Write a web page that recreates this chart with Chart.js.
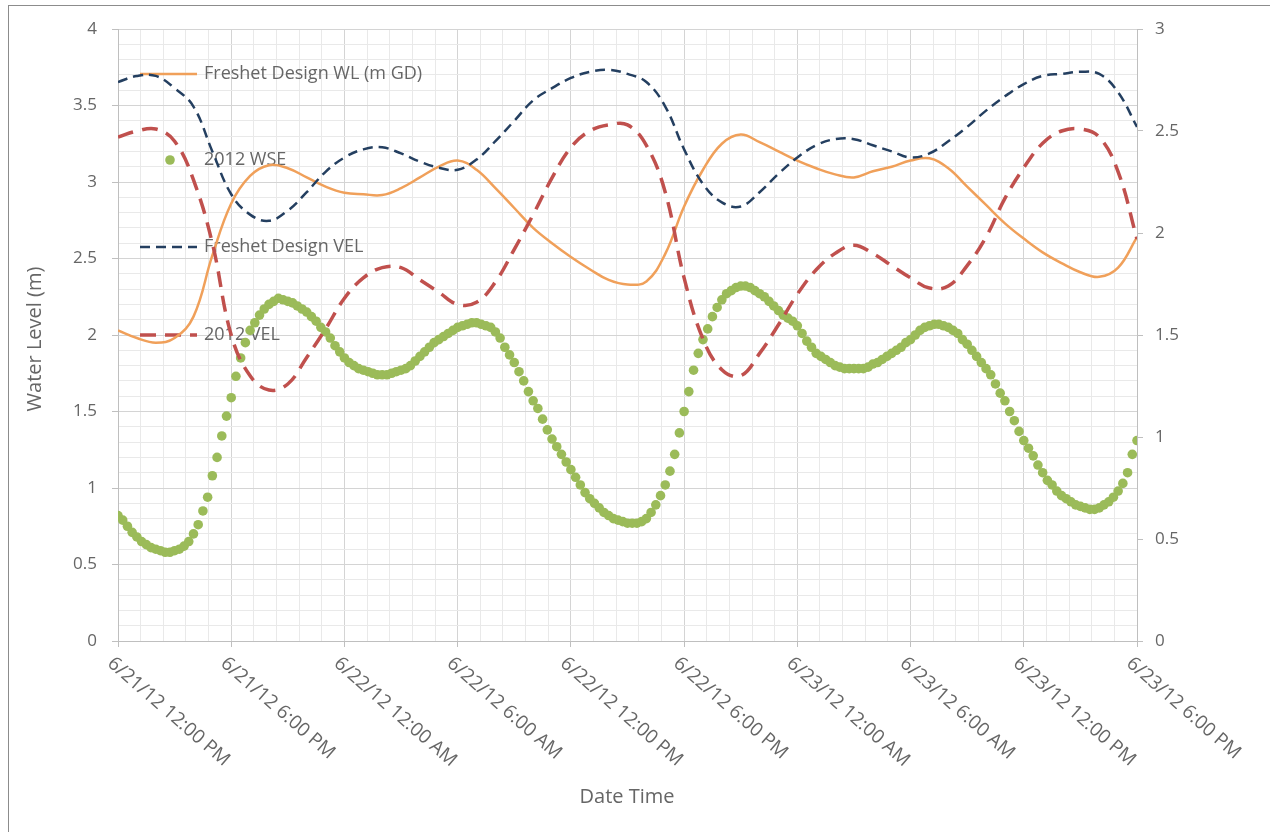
<!DOCTYPE html>
<html>
<head>
<meta charset="utf-8">
<script src="https://cdn.jsdelivr.net/npm/chart.js@4.4.1/dist/chart.umd.min.js"></script>
<style>
  html, body { margin: 0; padding: 0; background: #fff; }
  canvas { display: block; }
</style>
</head>
<body>
<canvas id="chart" width="1270" height="832"></canvas>
<script>
// time axis, hours after 6/21/12 12:00 PM
const xTickHours = [0, 6, 12, 18, 24, 30, 36, 42, 48, 54];
const xTickLabels = ["6/21/12 12:00 PM", "6/21/12 6:00 PM", "6/22/12 12:00 AM", "6/22/12 6:00 AM", "6/22/12 12:00 PM",
                     "6/22/12 6:00 PM", "6/23/12 12:00 AM", "6/23/12 6:00 AM", "6/23/12 12:00 PM", "6/23/12 6:00 PM"];
const seriesNames = ["Freshet Design WL (m GD)", "2012 WSE", "Freshet Design VEL", "2012 VEL"];

// hourly design series
const designWL = [2.03, 1.98, 1.95, 1.98, 2.12, 2.52, 2.86, 3.04, 3.11, 3.09, 3.03, 2.97, 2.93, 2.92, 2.915, 2.96, 3.03, 3.10,
                  3.14, 3.08, 2.96, 2.83, 2.70, 2.60, 2.51, 2.43, 2.36, 2.33, 2.35, 2.53, 2.84, 3.08, 3.25, 3.31, 3.26, 3.20,
                  3.14, 3.09, 3.05, 3.03, 3.07, 3.10, 3.14, 3.155, 3.09, 2.97, 2.85, 2.73, 2.63, 2.54, 2.47, 2.41, 2.38, 2.44, 2.64];
const designVEL = [2.74, 2.77, 2.77, 2.71, 2.62, 2.40, 2.19, 2.09, 2.06, 2.11, 2.20, 2.30, 2.37, 2.41, 2.42, 2.39, 2.35, 2.32,
                   2.31, 2.36, 2.45, 2.55, 2.65, 2.71, 2.76, 2.79, 2.80, 2.78, 2.74, 2.62, 2.41, 2.24, 2.15, 2.13, 2.20, 2.29,
                   2.37, 2.43, 2.46, 2.46, 2.43, 2.40, 2.37, 2.39, 2.45, 2.52, 2.60, 2.67, 2.73, 2.77, 2.78, 2.79, 2.78, 2.69, 2.52];
const vel2012 = [2.47, 2.50, 2.51, 2.45, 2.26, 1.95, 1.50, 1.30, 1.23, 1.26, 1.39, 1.53, 1.68, 1.78, 1.83, 1.83, 1.77, 1.71,
                 1.65, 1.66, 1.76, 1.92, 2.09, 2.27, 2.42, 2.50, 2.53, 2.53, 2.43, 2.20, 1.78, 1.48, 1.33, 1.30, 1.41, 1.55,
                 1.70, 1.82, 1.90, 1.94, 1.90, 1.84, 1.78, 1.73, 1.74, 1.84, 1.98, 2.17, 2.32, 2.44, 2.50, 2.51, 2.47, 2.30, 1.97];

// 15-minute observed water surface elevation
const wse2012 = [
  0.82, 0.79, 0.75, 0.71, 0.68, 0.65, 0.63, 0.61, 0.60, 0.59, 0.58, 0.58,
  0.59, 0.60, 0.62, 0.65, 0.70, 0.76, 0.85, 0.94, 1.08, 1.20, 1.34, 1.47,
  1.59, 1.73, 1.85, 1.95, 2.03, 2.08, 2.13, 2.17, 2.20, 2.22, 2.24, 2.23,
  2.22, 2.21, 2.19, 2.17, 2.15, 2.12, 2.09, 2.05, 2.02, 1.98, 1.93, 1.89,
  1.85, 1.82, 1.80, 1.78, 1.77, 1.76, 1.75, 1.74, 1.74, 1.74, 1.75, 1.76,
  1.77, 1.78, 1.80, 1.83, 1.86, 1.89, 1.92, 1.95, 1.97, 1.99, 2.01, 2.03,
  2.05, 2.06, 2.07, 2.08, 2.08, 2.07, 2.06, 2.05, 2.02, 1.98, 1.92, 1.87,
  1.82, 1.76, 1.70, 1.63, 1.57, 1.52, 1.45, 1.38, 1.32, 1.27, 1.22, 1.17,
  1.12, 1.07, 1.02, 0.97, 0.93, 0.90, 0.87, 0.84, 0.82, 0.80, 0.79, 0.78,
  0.77, 0.77, 0.77, 0.78, 0.80, 0.84, 0.89, 0.95, 1.02, 1.11, 1.22, 1.36,
  1.50, 1.63, 1.77, 1.88, 1.97, 2.04, 2.12, 2.18, 2.23, 2.27, 2.29, 2.31,
  2.32, 2.32, 2.31, 2.29, 2.27, 2.25, 2.22, 2.19, 2.16, 2.13, 2.11, 2.09,
  2.06, 2.01, 1.96, 1.92, 1.88, 1.86, 1.84, 1.82, 1.80, 1.79, 1.78, 1.78,
  1.78, 1.78, 1.78, 1.79, 1.81, 1.82, 1.84, 1.86, 1.88, 1.90, 1.92, 1.95,
  1.97, 2.00, 2.03, 2.05, 2.06, 2.07, 2.07, 2.06, 2.05, 2.03, 2.01, 1.97,
  1.94, 1.90, 1.86, 1.82, 1.78, 1.74, 1.68, 1.62, 1.57, 1.50, 1.44, 1.37,
  1.31, 1.26, 1.21, 1.15, 1.10, 1.05, 1.02, 0.98, 0.95, 0.93, 0.91, 0.89,
  0.88, 0.87, 0.86, 0.86, 0.87, 0.89, 0.91, 0.94, 0.98, 1.03, 1.10, 1.22,
  1.31
];

const FONT = "'Open Sans', sans-serif";
const TEXT = "#666666";
const ORANGE = "#F0A05A", GREEN = "#9BBB59", NAVY = "#243F60", RED = "#C0504D";

const hourly = arr => arr.map((v, i) => ({ x: i, y: v }));
const quarterly = arr => arr.map((v, i) => ({ x: i / 4, y: v }));
const isMult = (v, step) => Math.abs(v / step - Math.round(v / step)) < 1e-6;

const decor = {
  id: "decor",
  beforeDatasetsDraw(chart) {
    const ctx = chart.ctx;
    ctx.save();
    // legend sits inside the plot, under the series
    const rows = [74, 160, 247, 335];
    ctx.font = "18px " + FONT;
    ctx.fillStyle = TEXT;
    ctx.textBaseline = "middle";
    seriesNames.forEach((name, i) => ctx.fillText(name, 204, rows[i]));

    ctx.lineCap = "butt";
    ctx.strokeStyle = ORANGE; ctx.lineWidth = 2.5; ctx.setLineDash([]);
    ctx.beginPath(); ctx.moveTo(140, rows[0]); ctx.lineTo(197, rows[0]); ctx.stroke();

    ctx.fillStyle = GREEN;
    ctx.beginPath(); ctx.arc(170, rows[1], 4.8, 0, Math.PI * 2); ctx.fill();

    ctx.strokeStyle = NAVY; ctx.lineWidth = 2.5; ctx.setLineDash([10, 6]);
    ctx.beginPath(); ctx.moveTo(140, rows[2]); ctx.lineTo(197, rows[2]); ctx.stroke();

    ctx.strokeStyle = RED; ctx.lineWidth = 3.5; ctx.setLineDash([16, 9]);
    ctx.beginPath(); ctx.moveTo(140, rows[3]); ctx.lineTo(197, rows[3]); ctx.stroke();
    ctx.restore();
  },
  afterDraw(chart) {
    const { ctx, scales: { x } } = chart;
    ctx.save();
    ctx.fillStyle = TEXT;
    ctx.font = "19px " + FONT;
    ctx.textBaseline = "middle";
    ctx.textAlign = "left";
    xTickLabels.forEach((t, i) => {
      const px = x.getPixelForValue(xTickHours[i]);
      ctx.save();
      ctx.translate(px - 8, 661);
      ctx.rotate(41 * Math.PI / 180);
      ctx.fillText(t, 0, 0);
      ctx.restore();
    });

    ctx.font = "20px " + FONT;
    ctx.textAlign = "center";
    ctx.fillText("Date Time", 627, 797);
    ctx.save();
    ctx.translate(35, 339);
    ctx.rotate(-Math.PI / 2);
    ctx.fillText("Water Level (m)", 0, 0);
    ctx.restore();

    ctx.strokeStyle = "#8c8c8c";
    ctx.lineWidth = 1;
    ctx.strokeRect(8.5, 5.5, 1400, 1000);
    ctx.restore();
  }
};

new Chart(document.getElementById("chart"), {
  type: "scatter",
  data: {
    datasets: [{
      label: seriesNames[0],
      data: hourly(designWL),
      yAxisID: "y",
      showLine: true,
      borderColor: ORANGE,
      borderWidth: 2.5,
      pointRadius: 0,
      tension: 0.4,
      order: 4
    }, {
      label: seriesNames[1],
      data: quarterly(wse2012),
      yAxisID: "y",
      showLine: false,
      backgroundColor: GREEN,
      borderColor: GREEN,
      borderWidth: 0,
      pointRadius: 4.8,
      order: 3
    }, {
      label: seriesNames[2],
      data: hourly(designVEL),
      yAxisID: "y1",
      showLine: true,
      borderColor: NAVY,
      borderWidth: 2.5,
      borderDash: [10, 6],
      pointRadius: 0,
      tension: 0.4,
      order: 2
    }, {
      label: seriesNames[3],
      data: hourly(vel2012),
      yAxisID: "y1",
      showLine: true,
      borderColor: RED,
      borderWidth: 3.5,
      borderDash: [16, 9],
      pointRadius: 0,
      tension: 0.4,
      order: 1
    }]
  },
  plugins: [decor],
  options: {
    responsive: false,
    animation: false,
    layout: { padding: { top: 29, left: 0, right: 0, bottom: 0 } },
    plugins: {
      legend: { display: false },
      tooltip: { enabled: false }
    },
    scales: {
      x: {
        type: "linear",
        min: 0,
        max: 54,
        afterFit: s => { s.height = 191; },
        ticks: { stepSize: 1.2, display: false, autoSkip: false },
        border: { color: "#bfbfbf" },
        grid: {
          color: c => isMult(c.tick.value, 6) ? "#d4d4d4" : "#e9e9e9",
          tickColor: c => isMult(c.tick.value, 6) ? "#bfbfbf" : "rgba(0,0,0,0)",
          tickLength: 6
        }
      },
      y: {
        position: "left",
        min: 0,
        max: 4,
        afterFit: s => { s.width = 118; },
        ticks: {
          stepSize: 0.1,
          autoSkip: false,
          padding: 15,
          color: TEXT,
          font: { family: FONT, size: 17 },
          callback: v => isMult(v, 0.5) ? String(Math.round(v * 10) / 10) : ""
        },
        border: { color: "#bfbfbf" },
        grid: {
          color: c => isMult(c.tick.value, 0.5) ? "#d4d4d4" : "#e9e9e9",
          tickColor: c => isMult(c.tick.value, 0.5) ? "#bfbfbf" : "rgba(0,0,0,0)",
          tickLength: 6
        }
      },
      y1: {
        position: "right",
        min: 0,
        max: 3,
        afterFit: s => { s.width = 133; },
        ticks: {
          stepSize: 0.5,
          padding: 12,
          color: TEXT,
          font: { family: FONT, size: 17 },
          callback: v => String(v)
        },
        border: { color: "#bfbfbf" },
        grid: { drawOnChartArea: false, tickColor: "#bfbfbf", tickLength: 6 }
      }
    }
  }
});
</script>
</body>
</html>
